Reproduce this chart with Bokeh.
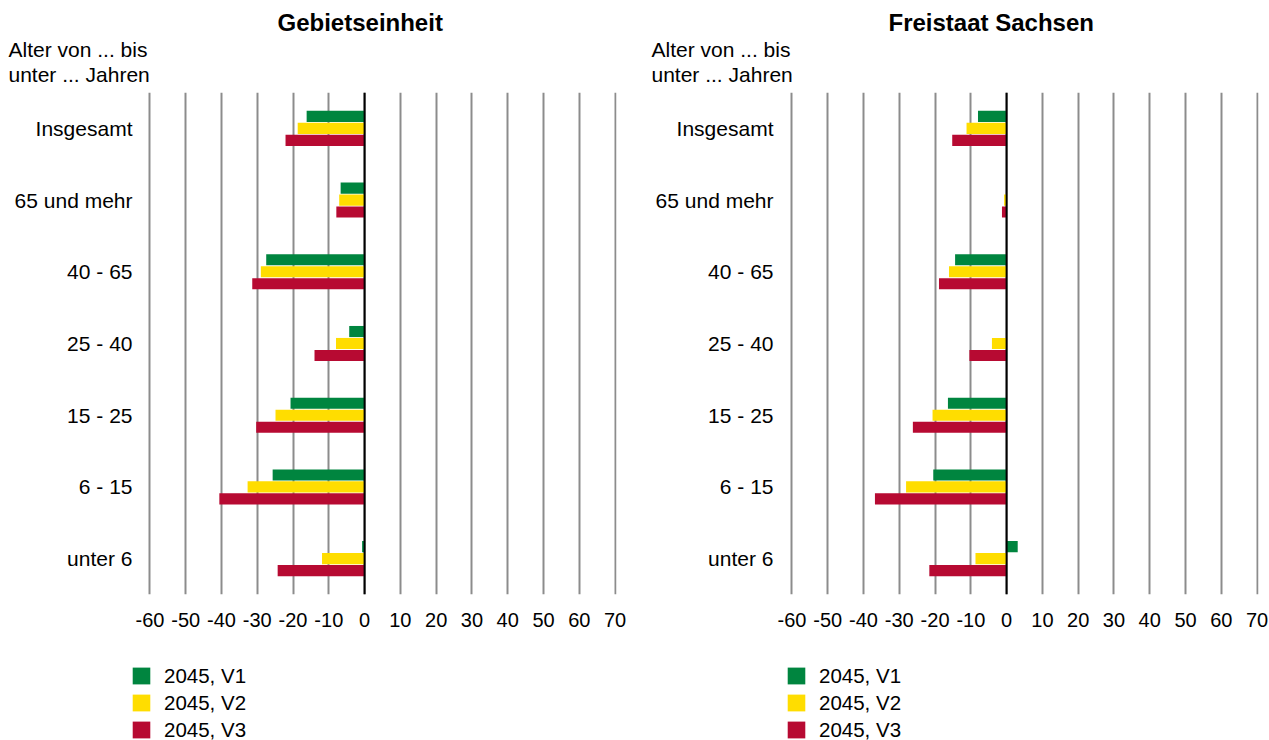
from bokeh.plotting import figure
from bokeh.layouts import row, column
from bokeh.models import (FactorRange, Range1d, FixedTicker, Span, Title, Legend,
                          LegendItem, ColumnDataSource)
from bokeh.transform import dodge
from bokeh.embed import file_html
from bokeh.resources import INLINE

# ---------------- data ----------------
categories = ["Insgesamt", "65 und mehr", "40 - 65", "25 - 40", "15 - 25", "6 - 15", "unter 6"]
series_names = ["2045, V1", "2045, V2", "2045, V3"]

gebiet_v1 = [-16.2, -6.7, -27.5, -4.3, -20.7, -25.7, -0.7]
gebiet_v2 = [-18.7, -7.1, -29.0, -8.0, -24.9, -32.7, -11.9]
gebiet_v3 = [-22.1, -7.9, -31.4, -14.0, -30.3, -40.6, -24.3]

sachsen_v1 = [-8.0, 0.0, -14.4, 0.0, -16.4, -20.5, 3.1]
sachsen_v2 = [-11.2, -0.7, -16.1, -4.1, -20.7, -28.1, -8.7]
sachsen_v3 = [-15.2, -1.3, -18.9, -10.4, -26.2, -36.8, -21.6]

x_ticks = [-60, -50, -40, -30, -20, -10, 0, 10, 20, 30, 40, 50, 60, 70]
panel_titles = ["Gebietseinheit", "Freistaat Sachsen"]
y_title_lines = ["Alter von ... bis", "unter ... Jahren"]

colors = ["#00853F", "#FFDD00", "#B70A32"]
FONT = "Liberation Sans"
GRID = "#8c8c8c"


def make_panel(title, v1, v2, v3, min_left, min_right, frame_w, x_start,
               label_standoff, title_x, ylab_x):
    factors = list(reversed(categories))
    p = figure(y_range=FactorRange(factors=factors), x_range=Range1d(x_start, 70.4),
               frame_width=frame_w, frame_height=502,
               min_border_left=min_left, min_border_right=min_right,
               min_border_top=92, min_border_bottom=46,
               output_backend="svg", toolbar_location=None)
    p.outline_line_color = None
    p.background_fill_color = "white"
    p.border_fill_color = "white"

    src = ColumnDataSource(dict(cat=categories, v1=v1, v2=v2, v3=v3))
    for key, off, col in zip(["v1", "v2", "v3"], [0.167, 0.0, -0.167], colors):
        p.hbar(y=dodge("cat", off, range=p.y_range), left=0, right=key,
               height=0.155, source=src, fill_color=col, line_color=None)

    p.add_layout(Span(location=0, dimension="height", line_color="black", line_width=2))

    # x axis
    p.xaxis.ticker = FixedTicker(ticks=x_ticks)
    p.xaxis.major_label_overrides = {t: str(t) for t in x_ticks}
    p.xaxis.axis_line_color = None
    p.xaxis.major_tick_line_color = None
    p.xaxis.minor_tick_line_color = None
    p.xaxis.major_tick_out = 0
    p.xaxis.major_label_standoff = 18
    p.xaxis.major_label_text_font = FONT
    p.xaxis.major_label_text_font_size = "20px"
    p.xaxis.major_label_text_color = "black"

    p.xgrid.ticker = FixedTicker(ticks=x_ticks)
    p.xgrid.grid_line_color = GRID
    p.xgrid.grid_line_width = 2
    p.ygrid.grid_line_color = None

    # y axis
    p.yaxis.axis_line_color = None
    p.yaxis.major_tick_line_color = None
    p.yaxis.minor_tick_line_color = None
    p.yaxis.major_tick_out = 0
    p.yaxis.major_label_standoff = label_standoff
    p.yaxis.major_label_text_font = FONT
    p.yaxis.major_label_text_font_size = "21px"
    p.yaxis.major_label_text_color = "black"

    # caption lines (closest to frame first) and panel title
    p.add_layout(Title(text=y_title_lines[1], align="left", offset=ylab_x, standoff=0,
                       padding=dict(left=0, right=0, top=0, bottom=7),
                       text_font=FONT, text_font_size="21px", text_font_style="normal",
                       text_color="black"), "above")
    p.add_layout(Title(text=y_title_lines[0], align="left", offset=ylab_x, standoff=0,
                       text_font=FONT, text_font_size="21px", text_font_style="normal",
                       text_color="black"), "above")
    p.add_layout(Title(text=title, align="left", offset=title_x, standoff=0,
                       text_font=FONT, text_font_size="24px", text_font_style="bold",
                       text_color="black"), "above")
    return p


def make_legend(width):
    lf = figure(width=width, height=100, min_border=0, x_range=Range1d(0, 1), y_range=Range1d(0, 1),
                x_axis_location=None, y_axis_location=None,
                output_backend="svg", toolbar_location=None)
    lf.outline_line_color = None
    lf.xgrid.grid_line_color = None
    lf.ygrid.grid_line_color = None
    rs = []
    for col in colors:
        # legend-only swatch renderer, kept outside the visible range
        rs.append(lf.hbar(y=[-5], left=[0], right=[0], height=0.1, fill_color=col, line_color=None))
    legend = Legend(items=[LegendItem(label=n, renderers=[r]) for n, r in zip(series_names, rs)],
                    location=(-2, -3), orientation="vertical",
                    glyph_width=22, glyph_height=21, label_height=27, spacing=0,
                    padding=0, margin=0, label_standoff=12,
                    border_line_color=None, background_fill_alpha=0,
                    label_text_font=FONT, label_text_font_size="20.5px",
                    label_text_color="black")
    lf.add_layout(legend, "center")
    return lf


p1 = make_panel(panel_titles[0], gebiet_v1, gebiet_v2, gebiet_v3,
                132, 18, 484, -64.87, 0, 145, -124)
p2 = make_panel(panel_titles[1], sachsen_v1, sachsen_v2, sachsen_v3,
                153, 11, 471, -61.24, 14, 101, -136)
l1 = make_legend(634)
l2 = make_legend(635)

layout = row(column(p1, l1), column(p2, l2))
open("out.html", "w").write(file_html(layout, INLINE))
